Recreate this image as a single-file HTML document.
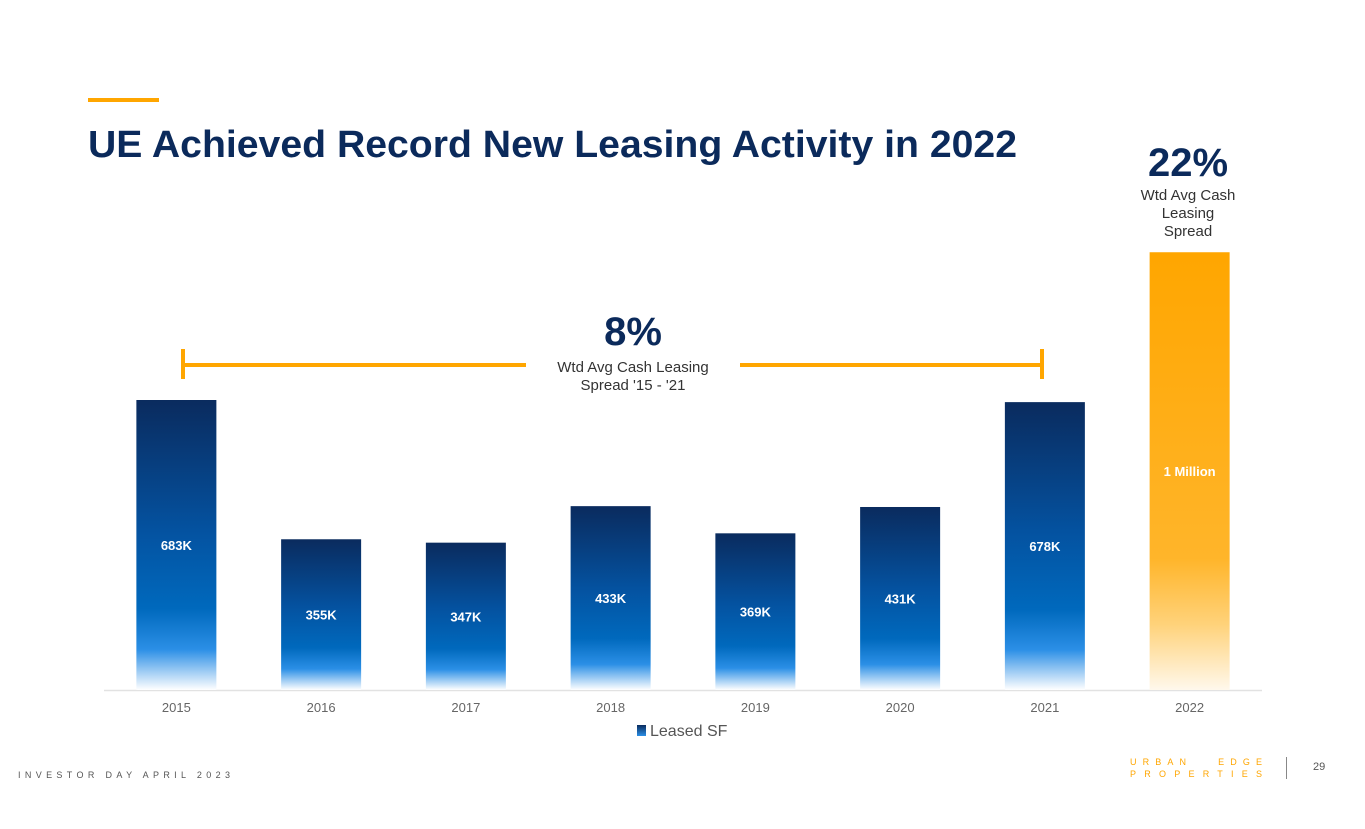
<!DOCTYPE html>
<html><head><meta charset="utf-8"><style>
html,body{margin:0;padding:0;background:#fff;width:1365px;height:829px;overflow:hidden}
svg{display:block;font-family:"Liberation Sans",sans-serif}
</style></head><body>
<svg id="chart" width="1365" height="829" viewBox="0 0 1365 829">
<defs>
<linearGradient id="gBlue" x1="0" y1="0" x2="0" y2="1">
<stop offset="0" stop-color="#0a2b5e"/><stop offset="0.45" stop-color="#0452a0"/><stop offset="0.72" stop-color="#0069bd"/><stop offset="0.86" stop-color="#2b8fe6"/><stop offset="1" stop-color="#ffffff"/>
</linearGradient>
<linearGradient id="gGold" x1="0" y1="0" x2="0" y2="1">
<stop offset="0" stop-color="#ffa600"/><stop offset="0.7" stop-color="#ffb52a"/><stop offset="0.85" stop-color="#ffd27a"/><stop offset="1" stop-color="#fff8ec"/>
</linearGradient>
<linearGradient id="gLeg" x1="0" y1="0" x2="0" y2="1"><stop offset="0" stop-color="#0a2b5e"/><stop offset="1" stop-color="#2b8fe6"/></linearGradient>
</defs>
<rect x="88" y="98" width="71" height="4" fill="#ffa600"/>
<text x="88" y="157" font-size="38" font-weight="bold" fill="#0b2a5b" textLength="929" lengthAdjust="spacingAndGlyphs">UE Achieved Record New Leasing Activity in 2022</text>
<g>
<text x="1188" y="176" text-anchor="middle" font-size="40" font-weight="bold" fill="#0b2a5b">22%</text>
<text x="1188" y="200" text-anchor="middle" font-size="15" fill="#333">Wtd Avg Cash</text>
<text x="1188" y="218" text-anchor="middle" font-size="15" fill="#333">Leasing</text>
<text x="1188" y="236" text-anchor="middle" font-size="15" fill="#333">Spread</text>
</g>
<g>
<rect x="181" y="363" width="345" height="4" fill="#ffa600"/>
<rect x="740" y="363" width="303" height="4" fill="#ffa600"/>
<rect x="181" y="349" width="4" height="30" fill="#ffa600"/>
<rect x="1040" y="349" width="4" height="30" fill="#ffa600"/>
<text x="633" y="345" text-anchor="middle" font-size="40" font-weight="bold" fill="#0b2a5b">8%</text>
<text x="633" y="372" text-anchor="middle" font-size="15" fill="#333">Wtd Avg Cash Leasing</text>
<text x="633" y="390" text-anchor="middle" font-size="15" fill="#333">Spread '15 - '21</text>
</g>
<line x1="104" y1="690.5" x2="1262" y2="690.5" stroke="#e2e2e2" stroke-width="1.5"/>
<g id="bars"></g>
<g>
<rect x="637" y="725" width="9" height="11" fill="url(#gLeg)"/>
<text x="650" y="736" font-size="16" fill="#555">Leased SF</text>
</g>
<text x="18" y="778" font-size="9" fill="#555" textLength="212" lengthAdjust="spacing">INVESTOR DAY APRIL 2023</text>
<text x="1130" y="765" font-size="9" fill="#ffa600" style="white-space:pre" xml:space="preserve" textLength="132" lengthAdjust="spacing">URBAN   EDGE</text>
<text x="1130" y="777" font-size="9" fill="#ffa600" textLength="132" lengthAdjust="spacing">PROPERTIES</text>
<rect x="1286" y="757" width="1" height="22" fill="#888"/>
<text x="1313" y="770" font-size="11" fill="#555">29</text>
</svg>
<script>
const categories=["2015","2016","2017","2018","2019","2020","2021","2022"];
const values=[683,355,347,433,369,431,678,1031];
const valueLabels=["683K","355K","347K","433K","369K","431K","678K","1 Million"];
const NS="http://www.w3.org/2000/svg";
const plotL=104,plotR=1262,base=690,pxPerK=290/683,barW=80;
const step=(plotR-plotL)/categories.length;
const xC=i=>plotL+step*(i+0.5);
const yV=v=>base-v*pxPerK;
const g=document.getElementById('bars');
categories.forEach((c,i)=>{
  const top=yV(values[i]);
  const r=document.createElementNS(NS,'rect');
  r.setAttribute('x',xC(i)-barW/2);r.setAttribute('y',top);
  r.setAttribute('width',barW);r.setAttribute('height',base-top);
  r.setAttribute('fill',i===7?'url(#gGold)':'url(#gBlue)');
  
  
  g.appendChild(r);
  const t=document.createElementNS(NS,'text');
  t.setAttribute('x',xC(i));t.setAttribute('y',(top+base)/2+5);
  t.setAttribute('text-anchor','middle');t.setAttribute('font-size','13');
  t.setAttribute('font-weight','bold');t.setAttribute('fill','#fff');
  t.textContent=valueLabels[i];
  
  
  g.appendChild(t);
  const l=document.createElementNS(NS,'text');
  l.setAttribute('x',xC(i));l.setAttribute('y',712);
  l.setAttribute('text-anchor','middle');l.setAttribute('font-size','13');l.setAttribute('fill','#666');
  l.textContent=c;
  
  
  g.appendChild(l);
});
</script>
</body></html>
